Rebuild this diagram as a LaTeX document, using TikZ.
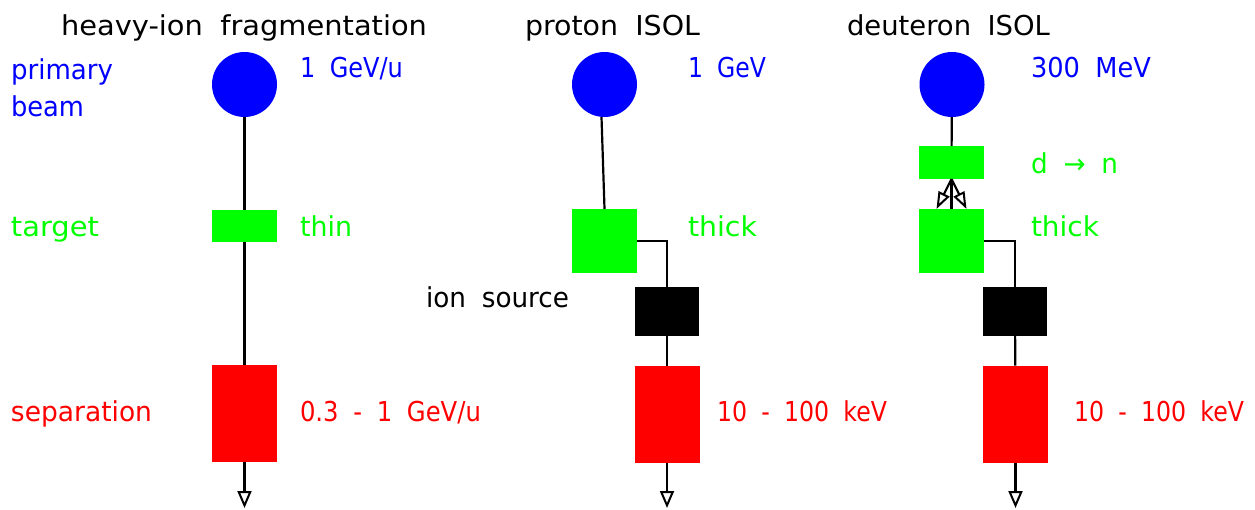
\documentclass[tikz,border=0pt]{standalone}
\usepackage{fontspec}
\usepackage{graphicx}
\setmainfont{DejaVu Sans}[WordSpace=1.9]
\usetikzlibrary{arrows.meta}
\definecolor{pblue}{RGB}{0,0,255}
\definecolor{pgreen}{RGB}{0,255,0}
\definecolor{pred}{RGB}{255,0,0}
\newcommand\fitw[2]{\resizebox{#1pt}{\height}{#2}}
\begin{document}
\begin{tikzpicture}[x=1pt,y=-1pt,
  every node/.style={inner sep=0pt, outer sep=0pt},
  lbl/.style={anchor=base west, font=\fontsize{27.4}{30}\selectfont},
  beamdot/.style={circle, fill=pblue, minimum size=65pt},
  gbox/.style={rectangle, fill=pgreen, minimum width=65pt, minimum height=#1},
  rbox/.style={rectangle, fill=pred, minimum width=65pt, minimum height=97pt},
  kbox/.style={rectangle, fill=black, draw=black, line width=1pt, minimum width=63pt, minimum height=48pt},
  conn/.style={line width=2.2pt},
  outarrow/.style={conn, -{Triangle[open, length=17pt, width=14pt, line width=2pt]}},
  splitarrow/.style={conn, -{Triangle[open, length=17pt, width=12pt, line width=2pt]}}
]
\useasboundingbox (0,0) rectangle (1255,509);

% titles
\node[lbl] (h1) at (61,35) {\fitw{366}{heavy-ion fragmentation}};
\node[lbl] (h2) at (525,35) {\fitw{175}{proton ISOL}};
\node[lbl] (h3) at (847,35) {\fitw{203}{deuteron ISOL}};

% left labels
\node[lbl, text=pblue] (lp) at (11,79) {\fitw{102}{primary}};
\node[lbl, text=pblue] (lb) at (11,116) {\fitw{73}{beam}};
\node[lbl, text=pgreen] (lt) at (11,236) {\fitw{88}{target}};
\node[lbl] (ls) at (426,307) {\fitw{143}{ion source}};
\node[lbl, text=pred] (lsep) at (11,421) {\fitw{141}{separation}};

% column 1
\node[beamdot] (b1) at (244.5,84.5) {};
\node[gbox=32pt] (t1) at (244.5,226) {};
\node[rbox] (s1) at (244.5,413.5) {};
\coordinate (e1) at (244.5,508);
\node[lbl, text=pblue] (v1) at (300,77) {\fitw{103}{1 GeV/u}};
\node[lbl, text=pgreen] (w1) at (300,236) {\fitw{52}{thin}};
\node[lbl, text=pred] (x1) at (300,421) {\fitw{181}{0.3 - 1 GeV/u}};
\draw[conn] (b1) -- (t1);
\draw[conn] (t1) -- (s1);
\draw[outarrow] (s1) -- (e1);

% column 2
\node[beamdot] (b2) at (604.5,84.5) {};
\node[gbox=64pt] (t2) at (604.5,241) {};
\node[kbox] (i2) at (667,311.5) {};
\node[rbox] (s2) at (667,414) {};
\coordinate (e2) at (667,508);
\node[lbl, text=pblue] (v2) at (688,77) {\fitw{78}{1 GeV}};
\node[lbl, text=pgreen] (w2) at (688,236) {\fitw{69}{thick}};
\node[lbl, text=pred] (x2) at (717,421) {\fitw{170}{10 - 100 keV}};
\draw[conn] ([xshift=-3pt]b2.south) -- (t2.north);
\draw[conn] (t2.east) -| (i2.north);
\draw[conn] (i2) -- (s2);
\draw[outarrow] (s2) -- (e2);

% column 3
\node[beamdot] (b3) at (952,84.5) {};
\node[gbox=33pt] (c3) at (951.5,162.5) {};
\node[gbox=64pt] (t3) at (951.5,241) {};
\node[kbox] (i3) at (1015,311.5) {};
\node[rbox] (s3) at (1015.5,414) {};
\coordinate (e3) at (1015.5,508);
\node[lbl, text=pblue] (v3) at (1031,77) {\fitw{120}{300 MeV}};
\node[lbl, text=pgreen] (d3) at (1031,173) {\fitw{87}{d → n}};
\node[lbl, text=pgreen] (w3) at (1031,236) {\fitw{68}{thick}};
\node[lbl, text=pred] (x3) at (1074,421) {\fitw{170}{10 - 100 keV}};
\draw[conn] (b3) -- (c3);
\draw[conn] (c3.south) -- (t3.north);
\draw[splitarrow] (c3.south) -- ([xshift=-15pt]t3.north);
\draw[splitarrow] (c3.south) -- ([xshift=15pt]t3.north);
\draw[conn] (t3.east) -| (i3.north);
\draw[conn] (i3) -- (s3);
\draw[outarrow] (s3) -- (e3);
\end{tikzpicture}
\end{document}
